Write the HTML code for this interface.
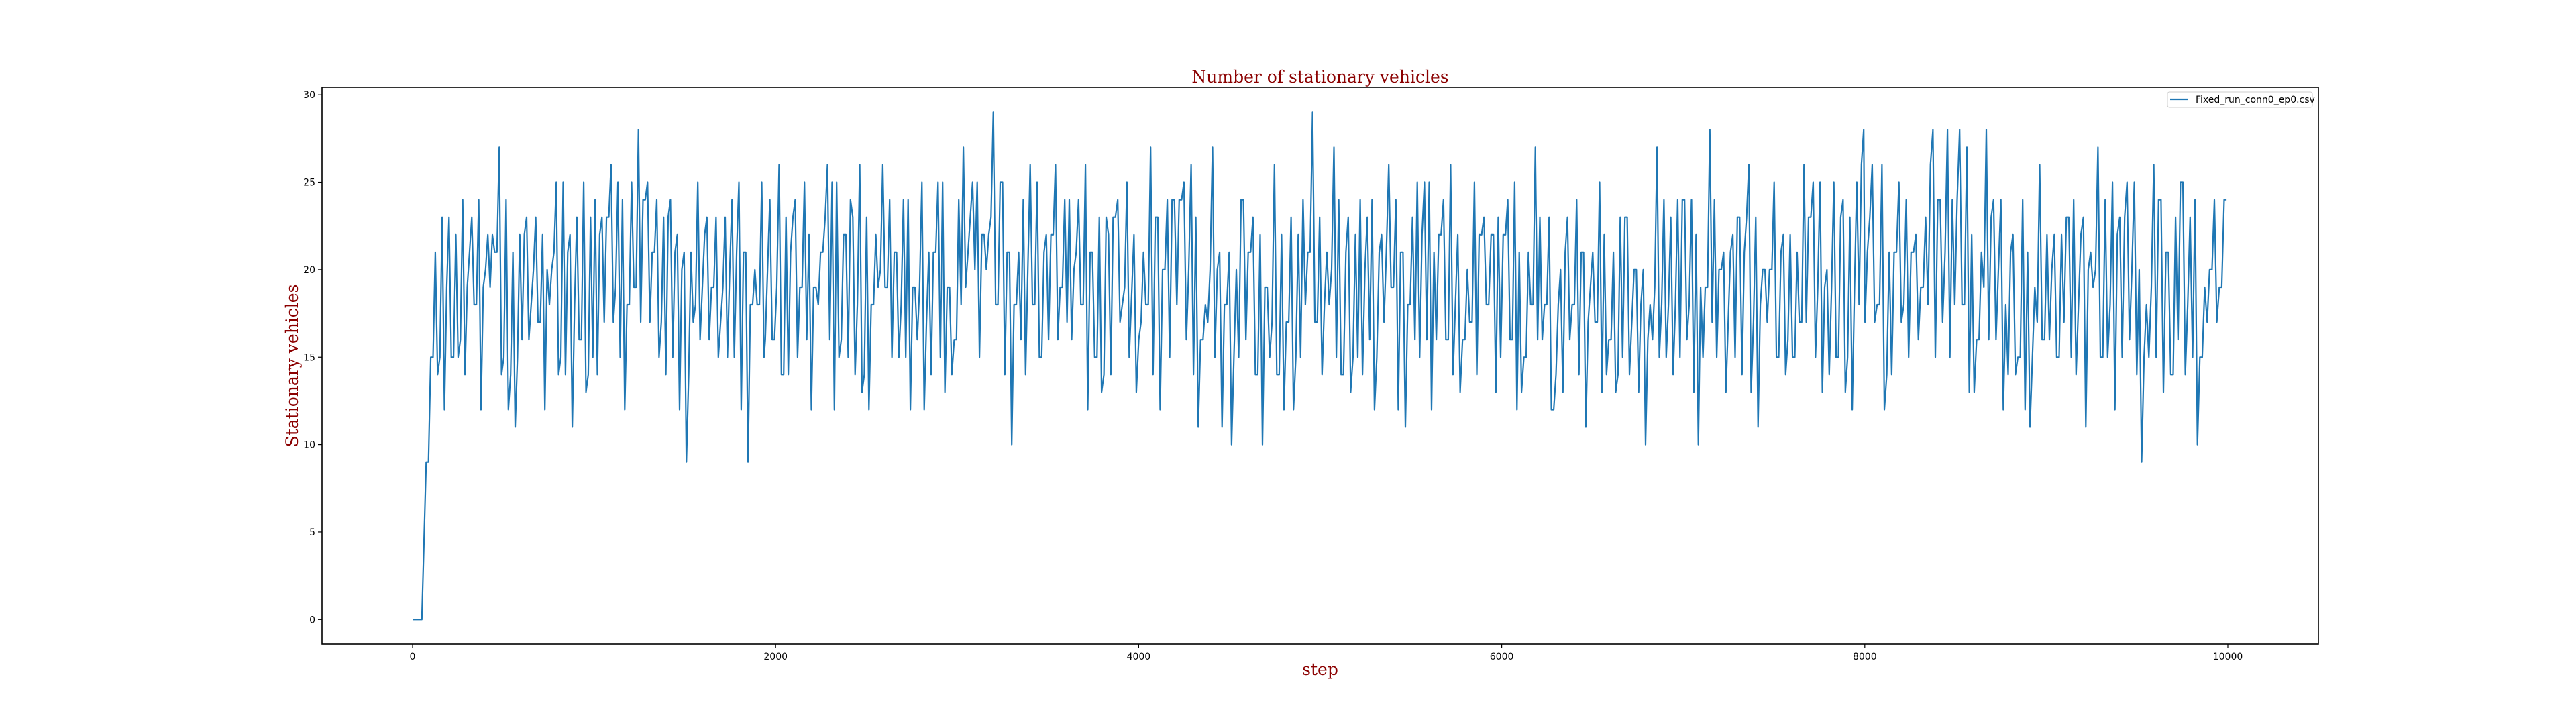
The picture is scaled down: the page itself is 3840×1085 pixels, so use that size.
<!DOCTYPE html>
<html><head><meta charset="utf-8"><style>
body{margin:0;background:#fff;width:3840px;height:1080px;overflow:hidden}
svg text{font-family:"DejaVu Sans","Liberation Sans",sans-serif}
</style></head><body>
<svg id="chart" width="3840" height="1080" viewBox="0 0 3840 1080" xmlns="http://www.w3.org/2000/svg">
<rect x="0" y="0" width="3840" height="1080" fill="#fff"/>
<text x="1968" y="123" text-anchor="middle" style="font-family:'DejaVu Serif','Liberation Serif',serif;font-size:25px" fill="#8b0000">Number of stationary vehicles</text>
<text x="1968" y="1006" text-anchor="middle" style="font-family:'DejaVu Serif','Liberation Serif',serif;font-size:25px" fill="#8b0000">step</text>
<text transform="translate(444,545) rotate(-90)" text-anchor="middle" style="font-family:'DejaVu Serif','Liberation Serif',serif;font-size:25px" fill="#8b0000">Stationary vehicles</text>
<g id="ticks"></g>
<path id="series" fill="none" stroke="#1f77b4" stroke-width="2.2" stroke-linejoin="round"/>
<rect x="480" y="130" width="2976" height="830" fill="none" stroke="#000" stroke-width="1.6"/>
<g>
<rect x="3231" y="137" width="216" height="23" rx="3" fill="#fff" fill-opacity="0.8" stroke="#ccc" stroke-width="1"/>
<line x1="3235" y1="148" x2="3262" y2="148" stroke="#1f77b4" stroke-width="2.2"/>
<text x="3273" y="153" font-size="14" fill="#000">Fixed_run_conn0_ep0.csv</text>
</g>
</svg>
<script>
const xTicks=[0,2000,4000,6000,8000,10000];
const yTicks=[0,5,10,15,20,25,30];
const startSteps=[0,51];
const startValues=[0,0];
const segRanges=[[75,1936],[1943,3948],[3974,5994],[6008,7994],[8001,9993]];
const seg1=[9,9,15,15,21,14,15,23,12,19,23,15,15,22,15,16,24,14,19,21,23,18,18,24,12,19,20,22,19,22,21,21,27,14,15,24,12,14,21,11,15,22,16,22,23,16,18,20,23,17,17,22,12,20,18,20,21,25,14,15,25,14,21,22,11,18,23,16,16,25,13,14,23,15,24,14,22,23,17,23,23,26,17,19,25,15,24,12,18,18,25,19,19,28,17,24,24,25,17,21,21,24,15,17,23,14,23,24,15,21,22,12,20,21,9,14,21,17,18,25,16,19,22,23,16,19,19,23,15,17,19,23,15,20,24,15,21,25,12,21,21,9,18,18,20,18,18,25,15];
const seg2=[16,20,24,16,16,19,26,14,14,23,14,21,23,24,15,19,19,25,16,22,12,19,19,18,21,21,23,26,16,25,12,25,15,16,22,22,15,24,23,14,18,26,13,14,23,12,18,18,22,19,20,26,19,19,24,15,21,21,15,18,24,15,24,12,19,19,16,19,25,12,17,21,14,21,21,25,15,25,13,19,19,14,16,16,24,18,27,19,21,23,25,20,25,15,22,22,20,22,23,29,18,18,25,25,14,21,21,10,18,18,21,16,24,14,20,26,18,18,25,15,15,21,22,16,22,22,26,16,19,19,24,17,24,16,20,21,24,18,18,26,12,21,21,15,15,23,13,14,23,22,14,23,23,24,17,18,19,25,15];
const seg3=[22,13,16,17,21,18,18,27,14,23,23,12,20,20,24,15,24,24,18,24,24,25,16,20,26,14,23,11,16,16,18,17,20,27,15,20,21,11,18,18,21,10,15,20,15,24,24,16,21,21,23,14,14,22,10,19,19,15,17,26,14,14,22,12,17,17,23,12,15,22,15,24,18,21,21,29,17,17,23,14,18,21,18,20,27,15,24,14,14,21,23,13,15,22,15,24,14,20,23,16,24,12,15,21,22,17,21,26,19,19,24,12,21,21,11,18,18,23,16,25,15,22,25,16,25,12,21,16,22,22,24,16,16,26,14,18,22,13,16,16,20,17,17,25,14,22,22,23,18,18,22,22,13,23,15];
const seg4=[22,22,24,16,16,25,12,21,13,15,15,21,18,18,27,16,23,16,18,18,23,12,12,14,18,20,13,21,23,16,18,18,24,14,21,21,11,17,19,21,17,17,25,13,22,14,16,16,21,13,14,23,15,23,23,14,17,20,20,13,18,20,10,16,18,16,19,27,15,18,24,15,18,23,14,18,24,15,24,24,16,18,24,13,22,10,19,15,19,19,28,17,24,15,20,20,21,13,17,21,22,15,23,23,14,21,23,26,13,17,23,11,18,20,20,17,20,20,25,15,15,21,22,14,16,22,15,15,21,17,17,26,17,23,23,25,15,19,25,13,19,20,14,19,25,15,15,23,24,13,15,23,12,19,25,18,26,28];
const seg5=[17,21,23,26,17,18,18,26,12,14,21,14,21,21,25,17,18,24,15,21,21,22,16,19,19,23,18,26,28,15,24,24,17,21,28,15,24,18,24,28,18,18,27,13,22,13,16,16,21,19,28,16,23,24,16,20,24,12,18,14,21,22,14,15,15,24,12,21,11,15,19,17,26,16,16,22,16,20,22,15,15,22,17,23,23,15,24,14,18,22,23,11,20,21,19,20,27,15,15,24,15,18,25,12,22,23,15,23,25,16,20,25,14,20,9,15,18,15,19,26,15,24,24,13,21,21,14,14,23,16,25,25,14,18,23,15,24,10,15,15,19,17,20,20,24,17,19,19,24,24];
const segments=[seg1,seg2,seg3,seg4,seg5];

const X0=480,X1=3456,Y0=130,Y1=960;
function xScale(s){return 615+s*0.2706;}
function yScale(v){return 923.3-v*26.07;}
const NS='http://www.w3.org/2000/svg';
const g=document.getElementById('ticks');
xTicks.forEach(t=>{
  const x=xScale(t);
  const l=document.createElementNS(NS,'line');
  l.setAttribute('x1',x);l.setAttribute('x2',x);l.setAttribute('y1',Y1);l.setAttribute('y2',Y1+6);
  l.setAttribute('stroke','#000');l.setAttribute('stroke-width','1.2');
  
  
  g.appendChild(l);
  const tx=document.createElementNS(NS,'text');
  tx.setAttribute('x',x);tx.setAttribute('y',Y1+23);tx.setAttribute('text-anchor','middle');tx.setAttribute('font-size','14');
  tx.textContent=String(t);
  
  
  g.appendChild(tx);
});
yTicks.forEach(t=>{
  const y=yScale(t);
  const l=document.createElementNS(NS,'line');
  l.setAttribute('x1',X0-6);l.setAttribute('x2',X0);l.setAttribute('y1',y);l.setAttribute('y2',y);
  l.setAttribute('stroke','#000');l.setAttribute('stroke-width','1.2');
  
  
  g.appendChild(l);
  const tx=document.createElementNS(NS,'text');
  tx.setAttribute('x',X0-10);tx.setAttribute('y',y+5);tx.setAttribute('text-anchor','end');tx.setAttribute('font-size','14');
  tx.textContent=String(t);
  
  
  g.appendChild(tx);
});
let pts=[];
startSteps.forEach((s,i)=>pts.push([xScale(s),yScale(startValues[i])]));
segments.forEach((seg,k)=>{
  const a=segRanges[k][0],b=segRanges[k][1];
  seg.forEach((v,i)=>{
    const s=a+(b-a)*i/(seg.length-1);
    pts.push([xScale(s),yScale(v)]);
  });
});
document.getElementById('series').setAttribute('d','M'+pts.map(p=>p[0].toFixed(1)+','+p[1].toFixed(1)).join('L'));
</script>
</body></html>
